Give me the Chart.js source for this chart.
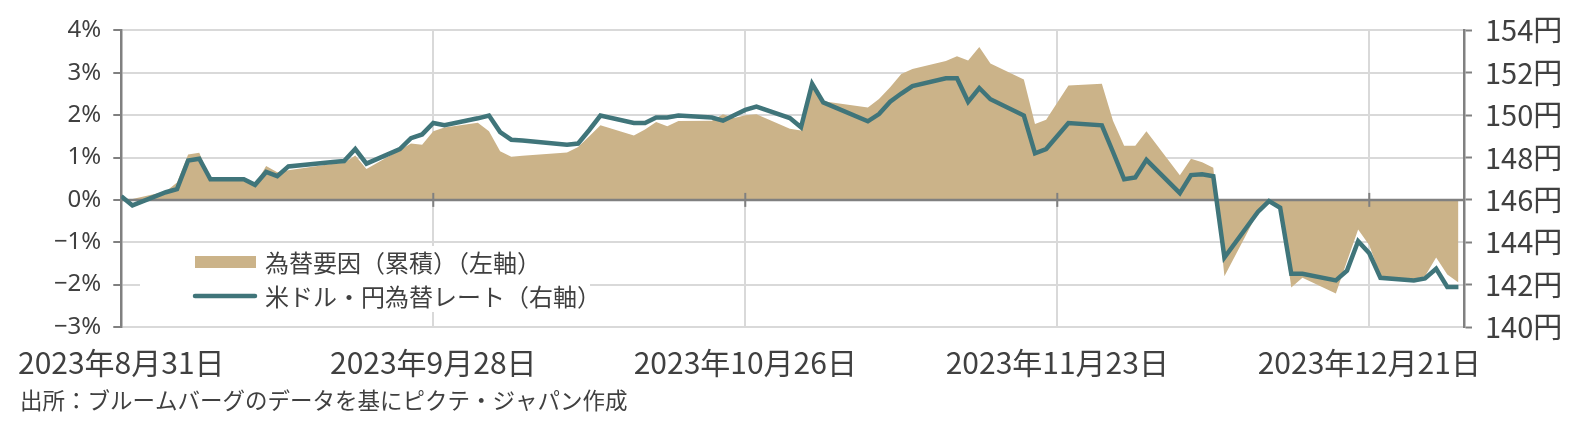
<!DOCTYPE html>
<html lang="ja">
<head>
<meta charset="UTF-8">
<title>為替要因と米ドル・円為替レート</title>
<script src="https://cdn.jsdelivr.net/npm/chart.js"></script>
<style>
  html, body { margin: 0; padding: 0; background: #fff; }
</style>
</head>
<body>
<canvas id="myChart" width="1589" height="425"></canvas>
<script>
// days after 2023-08-31 (business days only)
const days = [0, 1, 4, 5, 6, 7, 8, 11, 12, 13, 14, 15, 19, 20, 21, 22, 25, 26, 27, 28, 29,
  32, 33, 34, 35, 36, 40, 41, 42, 43, 46, 47, 48, 49, 50, 53, 54, 55, 56, 57, 60, 61, 62, 63,
  67, 68, 69, 70, 71, 74, 75, 76, 77, 78, 81, 82, 83, 85, 88, 89, 90, 91, 92, 95, 96, 97, 98, 99,
  102, 103, 104, 105, 106, 109, 110, 111, 112, 113, 116, 117, 118, 119, 120];

// 為替要因（累積）, %
const fxFactor = [0.00, 0.02, 0.20, 0.41, 1.07, 1.11, 0.48, 0.48, 0.36, 0.80, 0.65, 0.70,
  0.85, 0.87, 1.05, 0.73, 1.18, 1.33, 1.30, 1.62, 1.71, 1.82, 1.62, 1.15, 1.02, 1.04,
  1.12, 1.25, 1.50, 1.76, 1.52, 1.66, 1.84, 1.74, 1.86, 1.87, 2.02, 1.93, 2.00, 2.02,
  1.68, 1.64, 2.70, 2.33, 2.18, 2.38, 2.66, 2.97, 3.09, 3.28, 3.39, 3.29, 3.61, 3.22,
  2.84, 1.79, 1.89, 2.70, 2.74, 1.87, 1.28, 1.28, 1.62, 0.58, 0.97, 0.89, 0.76, -1.80,
  -0.30, -0.05, -0.18, -2.07, -1.84, -2.21, -1.45, -0.70, -1.07, -1.80,
  -1.88, -1.80, -1.36, -1.76, -1.95];

// 米ドル・円, 円
const usdJpy = [146.17, 145.74, 146.36, 146.51, 147.86, 147.94, 146.97, 146.97, 146.71, 147.32, 147.12, 147.58,
  147.79, 147.83, 148.40, 147.71, 148.40, 148.91, 149.09, 149.63, 149.52, 149.85, 149.98, 149.20, 148.84, 148.80,
  148.60, 148.66, 149.30, 149.98, 149.63, 149.63, 149.89, 149.89, 149.98, 149.89, 149.74, 150.00, 150.25, 150.40,
  149.86, 149.43, 151.48, 150.60, 149.71, 150.05, 150.63, 151.02, 151.37, 151.74, 151.74, 150.63, 151.28, 150.75,
  149.98, 148.20, 148.40, 149.63, 149.52, 148.26, 146.97, 147.06, 147.89, 146.32, 147.17, 147.21, 147.12, 143.28,
  145.43, 145.94, 145.63, 142.51, 142.51, 142.20, 142.66, 144.05, 143.48, 142.32,
  142.20, 142.29, 142.75, 141.89, 141.89];

const dateTicks = [0, 28, 56, 84, 112];
const dateLabels = ['2023年8月31日', '2023年9月28日', '2023年10月26日', '2023年11月23日', '2023年12月21日'];

const areaLabel = '為替要因（累積）（左軸）';
const lineLabel = '米ドル・円為替レート（右軸）';
const sourceNote = '出所：ブルームバーグのデータを基にピクテ・ジャパン作成';

const tanColor = 'rgb(203, 179, 137)';
const tealColor = 'rgb(64, 117, 122)';
const axisColor = '#808080';
const gridColor = '#d9d9d9';
const textColor = '#404040';
const cjk = '"Noto Sans CJK JP", "Noto Sans", sans-serif';

// zero line + cross ticks, drawn above the area but under the line
const zeroAxis = {
  id: 'zeroAxis',
  beforeDatasetDraw(chart, args) {
    if (args.index !== 0) return;
    const {ctx, chartArea, scales} = chart;
    const y0 = scales.y.getPixelForValue(0);
    ctx.save();
    ctx.strokeStyle = axisColor;
    ctx.lineWidth = 2.5;
    ctx.beginPath();
    ctx.moveTo(chartArea.left, y0);
    ctx.lineTo(chartArea.right, y0);
    ctx.stroke();
    ctx.lineWidth = 2;
    dateTicks.forEach(function(d) {
      if (d === 0) return;
      const x = scales.x.getPixelForValue(d);
      ctx.beginPath();
      ctx.moveTo(x, y0 - 7);
      ctx.lineTo(x, y0 + 7);
      ctx.stroke();
    });
    ctx.restore();
  }
};

// legend inside the plot + source note
const boxLegend = {
  id: 'boxLegend',
  afterDatasetsDraw(chart) {
    const ctx = chart.ctx;
    ctx.save();
    ctx.fillStyle = '#fff';
    ctx.fillRect(140, 246, 450, 66);

    ctx.fillStyle = tanColor;
    ctx.fillRect(195, 256, 61, 12);

    ctx.strokeStyle = tealColor;
    ctx.lineWidth = 4.5;
    ctx.lineCap = 'round';
    ctx.beginPath();
    ctx.moveTo(195, 296);
    ctx.lineTo(255, 296);
    ctx.stroke();

    ctx.fillStyle = textColor;
    ctx.font = '24px ' + cjk;
    ctx.textBaseline = 'middle';
    ctx.textAlign = 'left';
    ctx.fillText(areaLabel, 265, 263);
    ctx.fillText(lineLabel, 265, 297);

    ctx.font = '22.5px ' + cjk;
    ctx.fillText(sourceNote, 20, 400);
    ctx.restore();
  }
};

const ctx = document.getElementById('myChart').getContext('2d');

new Chart(ctx, {
  type: 'line',
  data: {
    datasets: [
      {
        label: lineLabel,
        data: days.map((d, i) => ({x: d, y: usdJpy[i]})),
        yAxisID: 'y1',
        borderColor: tealColor,
        borderWidth: 4.5,
        pointRadius: 0,
        tension: 0,
        fill: false
      },
      {
        label: areaLabel,
        data: days.map((d, i) => ({x: d, y: fxFactor[i]})),
        yAxisID: 'y',
        backgroundColor: tanColor,
        borderWidth: 0,
        pointRadius: 0,
        tension: 0,
        fill: 'origin'
      }
    ]
  },
  options: {
    responsive: false,
    animation: false,
    devicePixelRatio: 1,
    layout: { padding: { top: 24, left: 0, right: 0, bottom: 0 } },
    plugins: {
      legend: { display: false },
      tooltip: { enabled: false }
    },
    scales: {
      x: {
        type: 'linear',
        min: 0,
        max: 120.5,
        afterBuildTicks: function(scale) {
          scale.ticks = dateTicks.map(v => ({value: v}));
        },
        afterFit: function(scale) { scale.height = 98; },
        ticks: {
          autoSkip: false,
          maxRotation: 0,
          padding: 18,
          color: textColor,
          font: { family: cjk, size: 30 },
          callback: function(value, index) { return dateLabels[index]; }
        },
        grid: { color: gridColor, lineWidth: 2, drawTicks: false },
        border: { display: false }
      },
      y: {
        position: 'left',
        min: -3,
        max: 4,
        afterFit: function(scale) { scale.width = 120; },
        ticks: {
          stepSize: 1,
          padding: 12,
          color: textColor,
          font: { family: '"Noto Sans", sans-serif', size: 24 },
          callback: function(v) { return (v < 0 ? '\u2212' : '') + Math.abs(v) + '%'; }
        },
        grid: {
          color: function(c) { return c.tick && c.tick.value === 0 ? 'rgba(0,0,0,0)' : gridColor; },
          lineWidth: 2,
          tickColor: axisColor,
          tickLength: 8,
          tickWidth: 2
        },
        border: { display: true, color: axisColor, width: 2.5 }
      },
      y1: {
        position: 'right',
        min: 140,
        max: 154,
        afterFit: function(scale) { scale.width = 125; },
        ticks: {
          stepSize: 2,
          padding: 13,
          color: textColor,
          font: { family: cjk, size: 29 },
          callback: function(v) { return v + '円'; }
        },
        grid: {
          drawOnChartArea: false,
          tickColor: axisColor,
          tickLength: 8,
          tickWidth: 2
        },
        border: { display: true, color: axisColor, width: 2.5 }
      }
    }
  },
  plugins: [zeroAxis, boxLegend]
});
</script>
</body>
</html>
